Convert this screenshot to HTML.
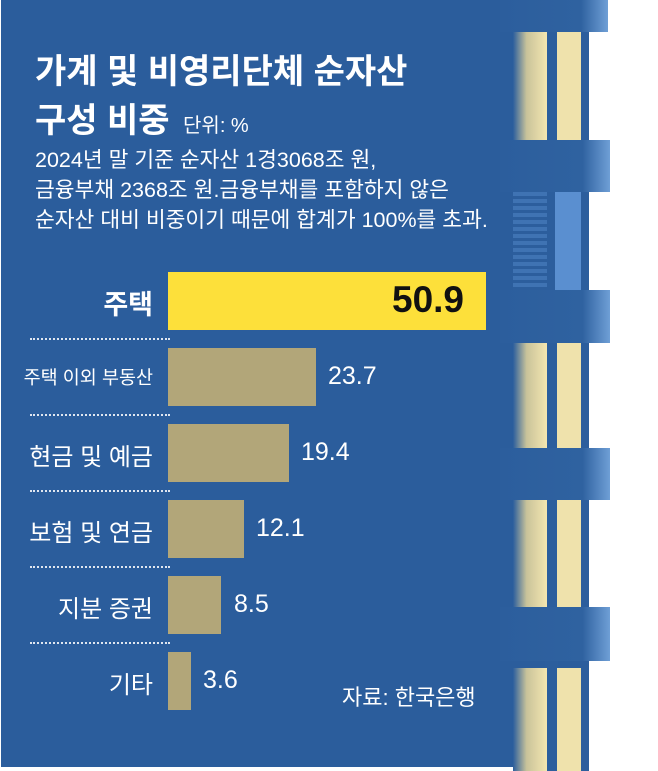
<!DOCTYPE html>
<html><head><meta charset="utf-8"><style>
html,body{margin:0;padding:0;background:#fff;}
#c{position:relative;width:658px;height:771px;overflow:hidden;background:#fff;font-family:"Liberation Sans","Noto Sans CJK KR",sans-serif;color:#fff;}
.bg{position:absolute;left:1px;top:0;width:587px;height:767px;background:#2b5d9c;}
.a{position:absolute;white-space:nowrap;}
.bar{position:absolute;left:168px;height:58px;background:#b2a679;}
.dot{position:absolute;left:30px;width:140px;border-top:2px dotted #dfe6f0;}
.lbl{position:absolute;right:505px;font-size:24px;text-align:right;white-space:nowrap;}
.val{position:absolute;font-size:25px;white-space:nowrap;}
.win{position:absolute;background:linear-gradient(90deg,#2c5e9d 0%,#c9c39a 40%,#f4e6b0 100%);}
.bal{position:absolute;left:500px;width:110px;background:linear-gradient(90deg,#2c5e9d 0%,#2f62a0 75%,#6f9fd6 100%);}
.col{position:absolute;background:#2c5e9d;}
</style></head><body><div id="c">
<div class="bg"></div>
<div class="col" style="left:545px;top:0;width:13px;height:771px"></div>
<div class="col" style="left:580px;top:0;width:9px;height:771px"></div>
<div class="win" style="left:513px;top:32px;width:34px;height:108px"></div>
<div class="win" style="left:557px;top:32px;width:24px;height:108px;background:#efe2ac"></div>
<div class="win" style="left:513px;top:343px;width:34px;height:105px"></div>
<div class="win" style="left:557px;top:343px;width:24px;height:105px;background:#efe2ac"></div>
<div class="win" style="left:513px;top:500px;width:34px;height:110px"></div>
<div class="win" style="left:557px;top:500px;width:24px;height:110px;background:#efe2ac"></div>
<div class="win" style="left:513px;top:668px;width:34px;height:103px"></div>
<div class="win" style="left:557px;top:668px;width:24px;height:103px;background:#efe2ac"></div>
<div style="position:absolute;left:513px;top:192px;width:34px;height:98px;background:repeating-linear-gradient(180deg,#3f73b3 0 4px,#2c5e9d 4px 7px)"></div>
<div style="position:absolute;left:555px;top:192px;width:26px;height:98px;background:#5a8fd0"></div>
<div class="bal" style="left:500px;top:0;height:32px;width:108px"></div>
<div class="bal" style="top:140px;height:52px"></div>
<div class="bal" style="top:290px;height:53px"></div>
<div class="bal" style="top:448px;height:52px"></div>
<div class="bal" style="top:607px;height:54px"></div>
<div class="a" style="left:35px;top:44px;font-size:34px;font-weight:bold;">가계 및 비영리단체 순자산</div>
<div class="a" style="left:35px;top:93px;font-size:34px;font-weight:bold;">구성 비중 <span style="font-size:20px;font-weight:normal;margin-left:4px">단위: %</span></div>
<div class="a" style="left:35px;top:143px;font-size:21.5px;">2024년 말 기준 순자산 1경3068조 원,</div>
<div class="a" style="left:35px;top:173px;font-size:21.5px;">금융부채 2368조 원.금융부채를 포함하지 않은</div>
<div class="a" style="left:35px;top:203px;font-size:21.5px;">순자산 대비 비중이기 때문에 합계가 100%를 초과.</div>
<div class="bar" style="top:272px;width:318px;background:#fde03a"></div>
<div class="bar" style="top:348px;width:148px"></div>
<div class="bar" style="top:424px;width:121px"></div>
<div class="bar" style="top:500px;width:76px"></div>
<div class="bar" style="top:576px;width:53px"></div>
<div class="bar" style="top:652px;width:23px"></div>
<div class="dot" style="top:338px"></div>
<div class="dot" style="top:414px"></div>
<div class="dot" style="top:490px"></div>
<div class="dot" style="top:566px"></div>
<div class="dot" style="top:642px"></div>
<div class="lbl" style="top:283px;font-size:27px;font-weight:bold">주택</div>
<div class="lbl" style="top:364px;font-size:18.5px">주택 이외 부동산</div>
<div class="lbl" style="top:437px">현금 및 예금</div>
<div class="lbl" style="top:513px">보험 및 연금</div>
<div class="lbl" style="top:589px">지분 증권</div>
<div class="lbl" style="top:665px">기타</div>
<div class="val" style="left:392px;top:279px;font-size:37px;font-weight:bold;color:#111">50.9</div>
<div class="val" style="left:328px;top:362px">23.7</div>
<div class="val" style="left:301px;top:438px">19.4</div>
<div class="val" style="left:256px;top:514px">12.1</div>
<div class="val" style="left:234px;top:590px">8.5</div>
<div class="val" style="left:203px;top:666px">3.6</div>
<div class="a" style="left:342px;top:680px;font-size:22px">자료: 한국은행</div>
</div></body></html>
